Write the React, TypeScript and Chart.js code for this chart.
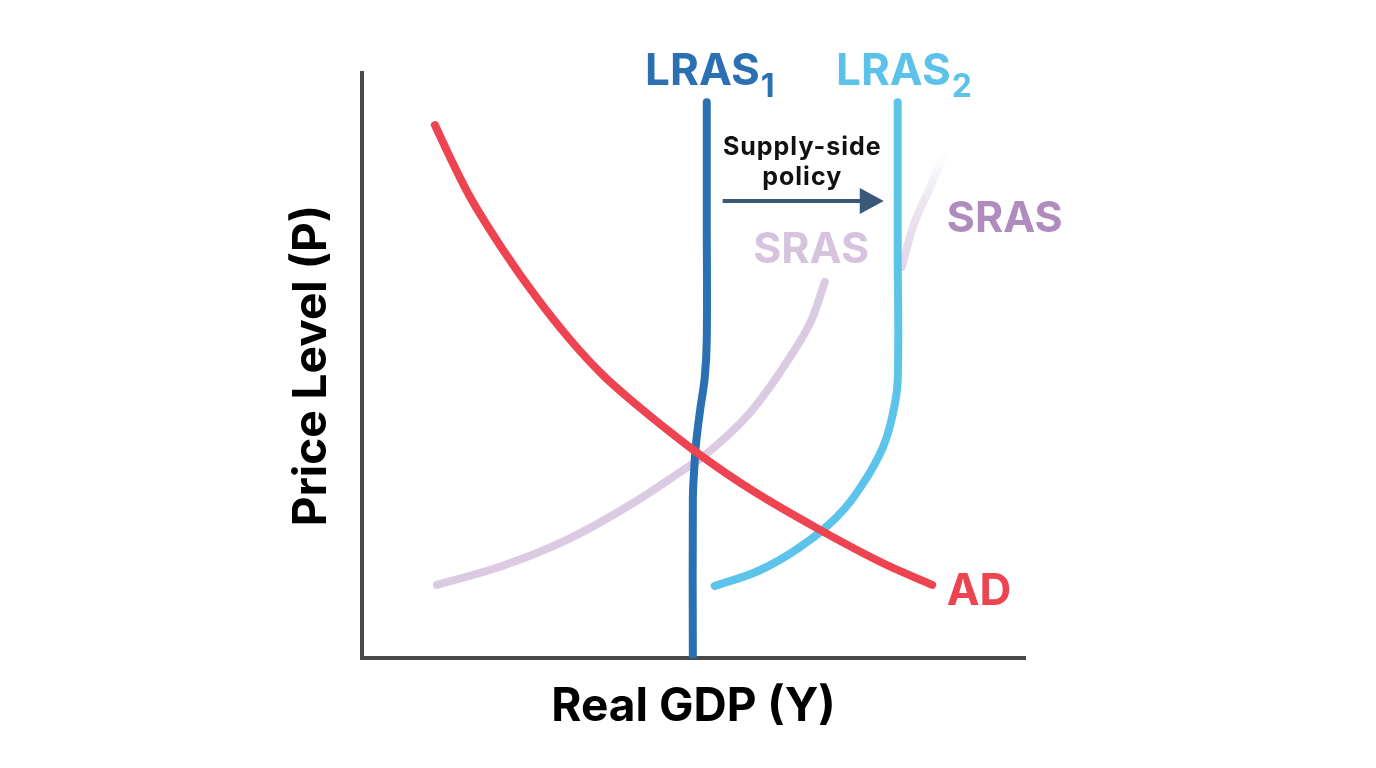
import React, { useEffect, useRef } from "react";
import { Chart, registerables } from "chart.js";

Chart.register(...registerables);

const FONT = "Inter, 'Noto Sans', 'DejaVu Sans', sans-serif";

// Real GDP index (x) and price level index (y) for each curve
const adGdp = [11.0, 13.7, 16.3, 21.3, 26.4, 31.4, 36.3, 41.5, 46.5, 51.0, 58.5, 68.6, 78.6, 86.0];
const adPrice = [91.1, 84.6, 78.8, 69.7, 61.5, 54.4, 48.4, 43.2, 38.6, 34.7, 28.9, 22.2, 16.2, 12.5];

const sras1Gdp = [11.3, 20.8, 30.9, 40.9, 48.4, 51.4, 58.5, 64.6, 68.0, 69.8];
const sras1Price = [12.5, 15.6, 20.2, 26.5, 32.1, 34.4, 41.9, 51.5, 58.3, 64.3];

const sras2Gdp = [81.4, 83.1, 85.7, 87.6];
const sras2Price = [66.8, 73.7, 80.5, 85.6];

const lras1Gdp = [52.0, 52.0, 52.0, 51.7, 51.0, 50.4, 50.1, 49.9, 49.9];
const lras1Price = [95.0, 75.0, 54.4, 48.0, 42.4, 36.8, 32.1, 27.0, 0];

const lras2Gdp = [80.8, 80.8, 80.8, 80.1, 78.6, 75.6, 71.6, 66.1, 60.0, 53.2];
const lras2Price = [95.0, 70.0, 47.5, 41.9, 36.1, 29.9, 24.1, 19.0, 15.0, 12.3];

const axisTitleX = "Real GDP (Y)";
const axisTitleY = "Price Level (P)";
const policyLines = ["Supply-side", "policy"];

const toPoints = (xs: number[], ys: number[]) => xs.map((x, i) => ({ x, y: ys[i] }));

// Annotation placement (data units)
const curveLabels = [
  { text: "LRAS", sub: "1", x: 42.7, y: 97.9, color: "#2B70B3", size: 44 },
  { text: "LRAS", sub: "2", x: 71.5, y: 97.9, color: "#5CC2EA", size: 44 },
  { text: "SRAS", sub: "", x: 59.0, y: 67.5, color: "#D6C4DF", size: 43 },
  { text: "SRAS", sub: "", x: 88.2, y: 72.8, color: "#AE8DBE", size: 43 },
  { text: "AD", sub: "", x: 88.2, y: 9.1, color: "#EE4350", size: 44 },
];
const policyText = { x: 66.4, y: [86.0, 80.9], size: 25, color: "#111111" };
const policyArrow = { x0: 54.4, x1: 78.7, y: 78.1, color: "#3A5878" };

const annotationPlugin = {
  id: "diagramAnnotations",
  afterDatasetsDraw(chart: any) {
    const { ctx, scales } = chart;
    const xs = scales.x;
    const ys = scales.y;
    ctx.save();

    // arrow
    const ax0 = xs.getPixelForValue(policyArrow.x0);
    const ax1 = xs.getPixelForValue(policyArrow.x1);
    const ay = ys.getPixelForValue(policyArrow.y);
    ctx.strokeStyle = policyArrow.color;
    ctx.fillStyle = policyArrow.color;
    ctx.lineWidth = 4;
    ctx.lineCap = "butt";
    ctx.beginPath();
    ctx.moveTo(ax0, ay);
    ctx.lineTo(ax1 - 20, ay);
    ctx.stroke();
    ctx.beginPath();
    ctx.moveTo(ax1, ay);
    ctx.lineTo(ax1 - 24, ay - 13);
    ctx.lineTo(ax1 - 24, ay + 13);
    ctx.closePath();
    ctx.fill();

    // policy text
    ctx.fillStyle = policyText.color;
    ctx.font = `bold ${policyText.size}px ${FONT}`;
    ctx.textAlign = "center";
    ctx.textBaseline = "alphabetic";
    (ctx as any).letterSpacing = "1px";
    policyLines.forEach((line, i) => {
      ctx.fillText(line, xs.getPixelForValue(policyText.x), ys.getPixelForValue(policyText.y[i]));
    });
    (ctx as any).letterSpacing = "0px";

    // curve labels
    ctx.textAlign = "left";
    curveLabels.forEach((l) => {
      const px = xs.getPixelForValue(l.x);
      const py = ys.getPixelForValue(l.y);
      ctx.fillStyle = l.color;
      ctx.font = `bold ${l.size}px ${FONT}`;
      ctx.fillText(l.text, px, py);
      if (l.sub) {
        const w = ctx.measureText(l.text).width;
        ctx.font = `bold ${Math.round(l.size * 0.72)}px ${FONT}`;
        ctx.fillText(l.sub, px + w + 1, py + 12);
      }
    });
    ctx.restore();
  },
};

export default function App() {
  const ref = useRef<HTMLCanvasElement>(null);

  useEffect(() => {
    const canvas = ref.current;
    if (!canvas) return;
    const common = {
      showLine: true,
      pointRadius: 0,
      pointHoverRadius: 0,
      borderWidth: 8,
      borderCapStyle: "round" as const,
      borderJoinStyle: "round" as const,
      tension: 0.4,
      fill: false,
    };
    const chart = new Chart(canvas, {
      type: "scatter",
      data: {
        datasets: [
          {
            ...common,
            label: "AD",
            data: toPoints(adGdp, adPrice),
            borderColor: "#EE4350",
            cubicInterpolationMode: "monotone",
            order: 0,
          },
          {
            ...common,
            label: "LRAS1",
            data: toPoints(lras1Gdp, lras1Price),
            borderColor: "#2A70B3",
            order: 1,
            clip: { left: false, top: false, right: false, bottom: 0 } as any,
          },
          { ...common, label: "LRAS2", data: toPoints(lras2Gdp, lras2Price), borderColor: "#5CC3EB", order: 2 },
          {
            ...common,
            label: "SRAS2",
            data: toPoints(sras2Gdp, sras2Price),
            cubicInterpolationMode: "monotone",
            order: 3,
            borderColor: (c: any) => {
              const ch = c.chart;
              if (!ch.chartArea) return "rgba(216,200,226,0.6)";
              const y = ch.scales.y;
              const g = ch.ctx.createLinearGradient(
                0,
                y.getPixelForValue(Math.min(...sras2Price)),
                0,
                y.getPixelForValue(Math.max(...sras2Price))
              );
              g.addColorStop(0, "rgba(216,200,226,0.75)");
              g.addColorStop(0.6, "rgba(216,200,226,0.45)");
              g.addColorStop(1, "rgba(216,200,226,0.06)");
              return g;
            },
          },
          {
            ...common,
            label: "SRAS1",
            data: toPoints(sras1Gdp, sras1Price),
            borderColor: "#DACBE3",
            cubicInterpolationMode: "monotone",
            order: 4,
          },
        ],
      },
      options: {
        responsive: false,
        animation: false,
        events: [],
        layout: { padding: { left: 289, right: 351, top: 73, bottom: 38 } },
        plugins: { legend: { display: false }, tooltip: { enabled: false } },
        scales: {
          x: {
            type: "linear",
            min: 0,
            max: 100,
            z: 1,
            grid: { display: false, drawTicks: false },
            ticks: { display: false },
            border: { display: true, color: "#4A4A4A", width: 4 },
            title: {
              display: true,
              text: axisTitleX,
              color: "#000000",
              font: { family: FONT, size: 46, weight: "bold", lineHeight: 1 },
              padding: { top: 26, bottom: 0 },
            },
          },
          y: {
            type: "linear",
            min: 0,
            max: 100,
            z: 1,
            grid: { display: false, drawTicks: false },
            ticks: { display: false },
            border: { display: true, color: "#4A4A4A", width: 4 },
            title: {
              display: true,
              text: axisTitleY,
              color: "#000000",
              font: { family: FONT, size: 46, weight: "bold", lineHeight: 1 },
              padding: { top: 0, bottom: 27 },
            },
          },
        },
      },
      plugins: [annotationPlugin],
    });
    return () => chart.destroy();
  }, []);

  return (
    <div style={{ position: "fixed", left: 0, top: 0, width: 1376, height: 768, background: "#ffffff" }}>
      <canvas ref={ref} width={1376} height={768} style={{ display: "block", width: 1376, height: 768 }} />
    </div>
  );
}
